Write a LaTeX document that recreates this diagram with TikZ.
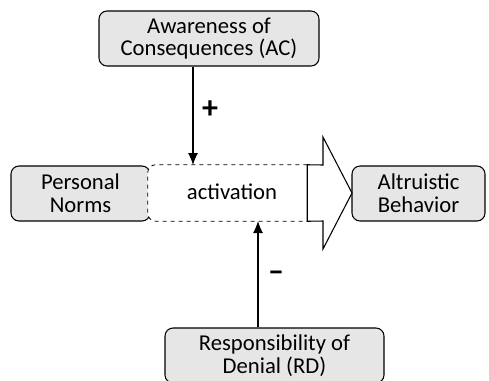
\documentclass[tikz,border=0pt]{standalone}
\usepackage{fontspec}
\setmainfont{Carlito}
\usetikzlibrary{arrows.meta}
\definecolor{boxgray}{HTML}{E6E6E6}
\tikzset{
  concept/.style={draw, fill=boxgray, rounded corners=6, line width=0.8pt,
    align=center, inner sep=0pt, font=\fontsize{17}{17}\selectfont},
  link/.style={line width=0.8pt, -{Latex[length=9pt,width=7.5pt]}},
  sign/.style={font=\fontsize{24}{24}\selectfont\bfseries}
}
\begin{document}
\begin{tikzpicture}[x=0.75pt,y=-0.75pt]
\useasboundingbox (0,0) rectangle (489,380);
% concepts
\node[concept, minimum width=220*0.75pt, minimum height=55*0.75pt] (ac) at (209,38.5) {Awareness of\\Consequences (AC)};
\node[concept, minimum width=139*0.75pt, minimum height=55*0.75pt] (pn) at (80.5,193.5) {Personal\\Norms};
\node[concept, minimum width=133*0.75pt, minimum height=55*0.75pt] (ab) at (418.5,193.5) {Altruistic\\Behavior};
\node[concept, minimum width=219*0.75pt, minimum height=55*0.75pt] (rd) at (274.5,355.5) {Responsibility of\\Denial (RD)};
% activation stage: dashed box joined to a block arrow
\node[minimum width=159*0.75pt, minimum height=56*0.75pt, inner sep=0pt] (act) at (227.5,193) {};
\fill[white, rounded corners=6] (act.north east) -- (act.north west) -- (act.south west) -- (act.south east) -- cycle;
\draw[dashed, line width=0.6pt] (act.north east) [rounded corners=6] -- (act.north west) -- (act.south west) [sharp corners] -- (act.south east);
\node[font=\fontsize{17}{17}\selectfont] (actlabel) at (232,192) {activation};
\coordinate (tip) at (352,193);
\draw[line width=0.8pt, fill=white] (act.north east) -- (323,165) -- (323,137) -- (tip) -- (323,249) -- (323,221) -- (act.south east) -- cycle;
% influences on the activation
\coordinate (actTopIn) at (193,165);
\coordinate (actBotIn) at (258,221);
\draw[link] (ac.south -| actTopIn) -- (actTopIn);
\draw[link] (rd.north -| actBotIn) -- (actBotIn);
\node[sign] (plus) at (210,110) {+};
\node[sign] (minus) at (276,276) {--};
\end{tikzpicture}
\end{document}
